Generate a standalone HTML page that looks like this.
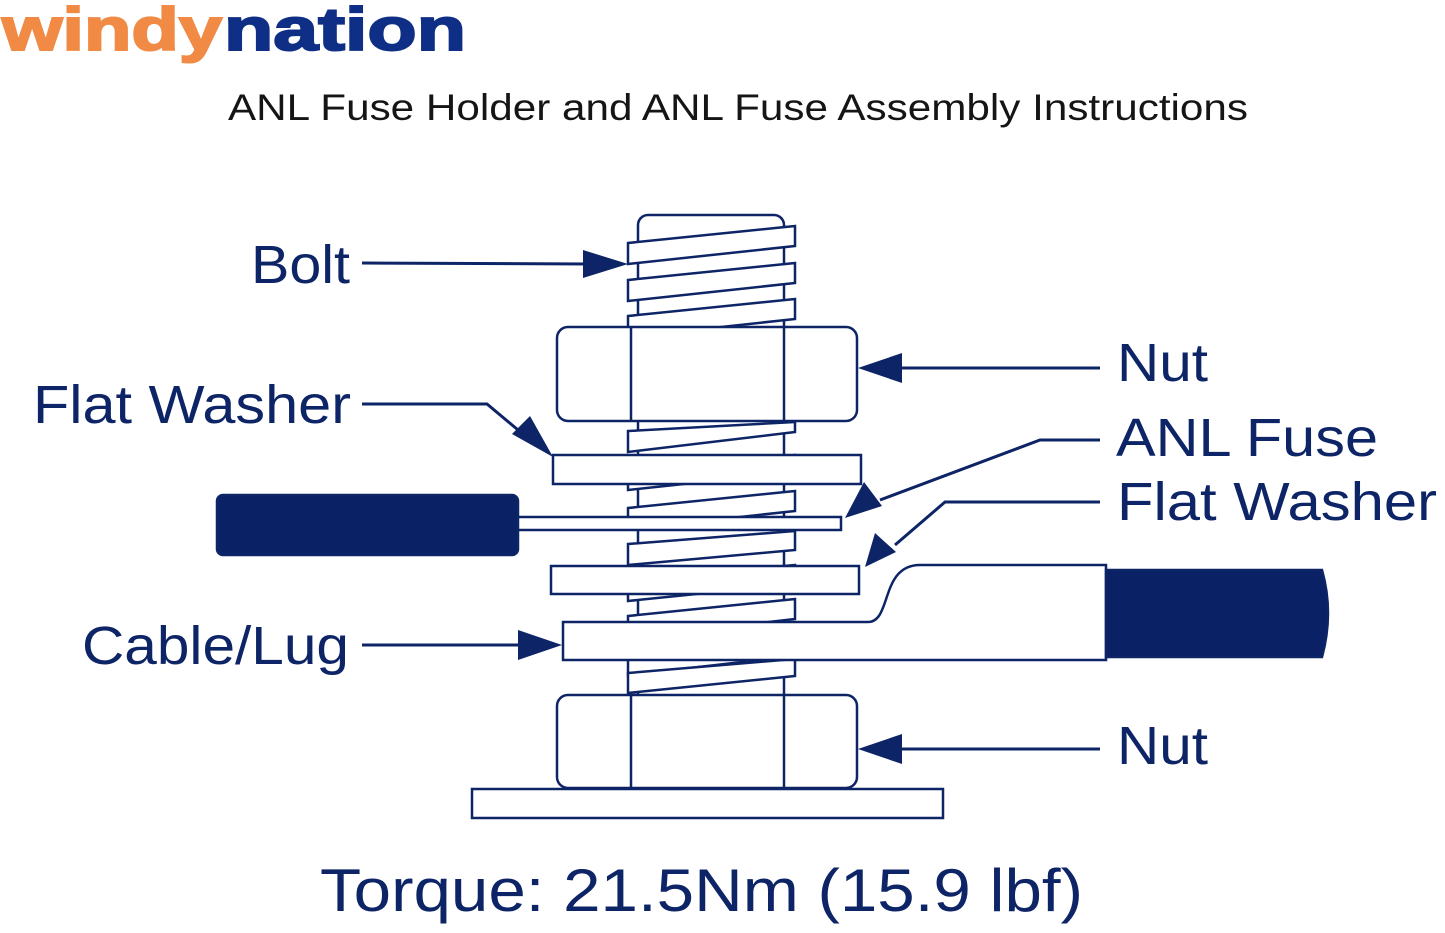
<!DOCTYPE html>
<html><head><style>
body{margin:0;background:#fff;}
svg{display:block}
</style></head><body>
<svg width="1445" height="933" viewBox="0 0 1445 933" xmlns="http://www.w3.org/2000/svg">
<text x="2" y="50" font-family="Liberation Sans, sans-serif" font-weight="bold" font-size="60" fill="#f08a45" textLength="220" lengthAdjust="spacingAndGlyphs" stroke="#f08a45" stroke-width="2">windy</text>
<text x="224" y="50" font-family="Liberation Sans, sans-serif" font-weight="bold" font-size="60" fill="#0f2f86" textLength="242" lengthAdjust="spacingAndGlyphs" stroke="#0f2f86" stroke-width="2">nation</text>
<text x="228" y="120" font-family="Liberation Sans, sans-serif" font-size="37" fill="#151515" textLength="1020" lengthAdjust="spacingAndGlyphs">ANL Fuse Holder and ANL Fuse Assembly Instructions</text>

<g stroke="#0d2466" stroke-width="2.5" fill="#fff">
<rect x="638" y="215" width="146" height="490" rx="10"/>
<g>
<polygon points="628,243 795,226 795,246 628,264"/>
<polygon points="628,280 795,263 795,283 628,301"/>
<polygon points="628,316 795,299 795,319 628,337"/>
<polygon points="628,353 795,336 795,356 628,374"/>
<polygon points="628,389 795,372 795,392 628,410"/>
<polygon points="628,431 795,422 795,432 628,452"/>
<polygon points="628,470 795,455 795,472 628,490"/>
<polygon points="628,508 795,491 795,511 628,529"/>
<polygon points="628,544 795,531 795,550 628,565"/>
<polygon points="628,580 795,565 795,584 628,601"/>
<polygon points="628,616 795,599 795,619 628,638"/>
<polygon points="628,653 795,636 795,656 628,675"/>
<polygon points="628,673 795,659 795,676 628,693"/>
</g>
<rect x="557" y="327" width="300" height="94" rx="11"/>
<line x1="631" y1="327" x2="631" y2="421"/>
<line x1="784" y1="327" x2="784" y2="421"/>
<rect x="553" y="455" width="308" height="29"/>
<rect x="517" y="517" width="324" height="13"/>
<rect x="217" y="495" width="301" height="60" rx="6" fill="#0a2166"/>
<rect x="551" y="566" width="308" height="28"/>
<path d="M563,622 L868,622 C892,622 880,565 920,565 L1106,565 L1106,660 L563,660 Z"/>
<path d="M1106,570 L1322,570 Q1334,613 1322,657 L1106,657 Z" fill="#0a2166"/>
<rect x="557" y="695" width="300" height="93" rx="11"/>
<line x1="631" y1="695" x2="631" y2="788"/>
<line x1="784" y1="695" x2="784" y2="788"/>
<rect x="472" y="789" width="471" height="29"/>
</g>

<g stroke="#0d2466" stroke-width="3" fill="none">
<line x1="362" y1="263" x2="590" y2="264"/>
<line x1="1100" y1="368" x2="898" y2="368"/>
<polyline points="362,404 487,404 530,440"/>
<polyline points="1100,440 1040,440 880,500"/>
<polyline points="1100,502 945,502 895,545"/>
<line x1="362" y1="645" x2="525" y2="645"/>
<line x1="1100" y1="749" x2="898" y2="749"/>
</g>
<g fill="#0d2466">
<polygon points="628,264 583,250 583,278"/>
<polygon points="858,368 902,353 902,383"/>
<polygon points="553,457 512,434 530,416"/>
<polygon points="845,518 864,482 882,506"/>
<polygon points="865,567 875,533 896,552"/>
<polygon points="562,645 518,630 518,660"/>
<polygon points="858,749 902,734 902,764"/>
</g>

<g font-family="Liberation Sans, sans-serif" font-size="54" fill="#0d2466" lengthAdjust="spacingAndGlyphs">
<text x="251" y="283" textLength="99" lengthAdjust="spacingAndGlyphs">Bolt</text>
<text x="1117" y="381" textLength="91" lengthAdjust="spacingAndGlyphs">Nut</text>
<text x="33" y="423" textLength="318" lengthAdjust="spacingAndGlyphs">Flat Washer</text>
<text x="1116" y="456" textLength="262" lengthAdjust="spacingAndGlyphs">ANL Fuse</text>
<text x="1117" y="520" textLength="320" lengthAdjust="spacingAndGlyphs">Flat Washer</text>
<text x="82" y="664" textLength="267" lengthAdjust="spacingAndGlyphs">Cable/Lug</text>
<text x="1117" y="764" textLength="91" lengthAdjust="spacingAndGlyphs">Nut</text>
<text x="320" y="911" font-size="60" textLength="763" lengthAdjust="spacingAndGlyphs">Torque: 21.5Nm (15.9 lbf)</text>
</g>
</svg>
</body></html>
